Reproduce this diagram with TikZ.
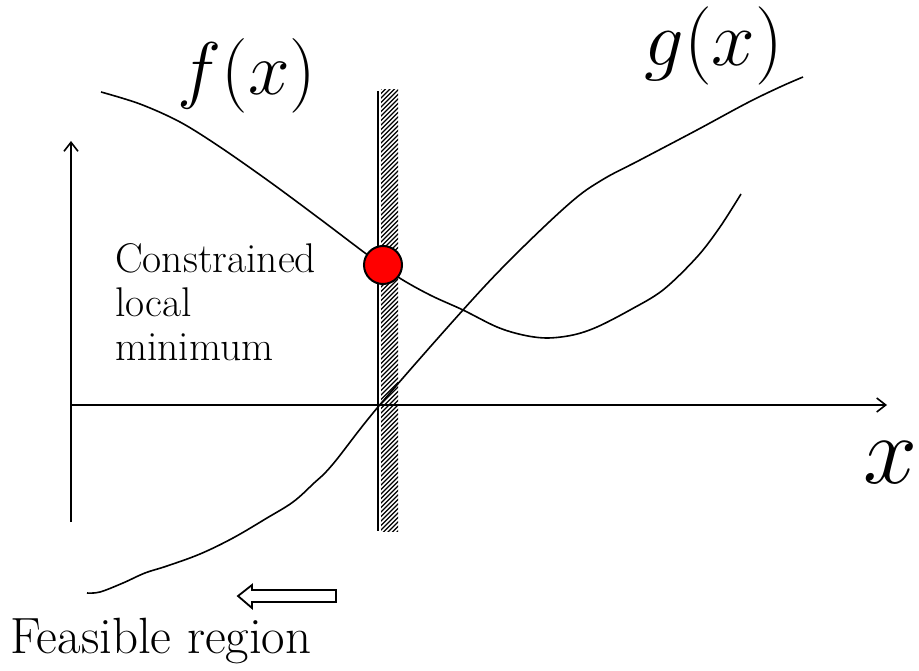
\documentclass[tikz,border=0pt]{standalone}
\usepackage{fontspec}
\usetikzlibrary{arrows.meta}
\tikzset{
  curve/.style={line width=1.6pt, line join=round},
  axis/.style={line width=1.6pt, -{Straight Barb[length=9pt,width=14pt,line width=1.6pt]}},
  lbl/.style={inner sep=0pt, anchor=base west},
  hatch/.style={line width=1.1pt},
}
\begin{document}
\begin{tikzpicture}[x=1pt,y=-1pt]
\useasboundingbox (0,0) rectangle (919,671);
% hatched strip
\begin{scope}
  \clip (381,90) rectangle (398,531);
  \foreach \k in {0,4.5,...,470} {
    \draw[hatch] (375,95+\k) -- (405,65+\k);
  }
\end{scope}
\draw[line width=1.8pt] (378,91) coordinate (vt) -- (378,531) coordinate (vb);
% axes
\coordinate (ybot) at (71,522);
\coordinate (ytop) at (71,141);
\coordinate (xl) at (71,405);
\coordinate (xr) at (887,405);
\draw[axis] (ybot) -- (ytop);
\draw[axis] (xl) -- (xr);
% f curve
\draw[curve] plot[smooth, tension=0.55] coordinates {(101,92) (140,104) (180,122) (220,147) (270,182) (320,219) (365,253) (398,277) (430,295) (463,310) (497,327) (523,335) (547,338) (573,335) (597,327) (630,310) (663,290) (697,257) (720,227) (741,194)};
% g curve
\draw[curve] plot[smooth, tension=0.6] coordinates {(87,593) (100,592) (123,583) (145,573) (167,566) (200,554) (233,538) (267,518) (293,502) (313,484) (333,464) (378,407) (463,310) (513,257) (570,203) (602,180) (640,160) (697,130) (747,103) (780,87) (803,77)};
% point
\node[circle, draw, line width=2pt, fill=red, minimum size=38pt, inner sep=0pt] (pt) at (383,265) {};
% labels
\node[lbl, scale=3.0] (fl) at (177,95) {\Huge $f(x)$};
\node[lbl, scale=3.15] (gl) at (644,66) {\Huge $g(x)$};
\node[inner sep=0pt, anchor=base east, scale=3.9] (xlab) at (918,483) {\Huge $x$};
\node[lbl, align=left, font=\fontsize{41.5}{44}\selectfont] (cl) at (115,360) {Constrained\\local\\minimum};
\node[lbl, font=\fontsize{51}{55}\selectfont] (fr) at (10,653) {Feasible region};
% hollow arrow
\draw[line width=1.8pt, line join=miter, fill=white] (336,590) -- (252,590) -- (252,585) -- (238,596) -- (252,608) -- (252,602) -- (336,602) -- cycle;
\end{tikzpicture}
\end{document}
